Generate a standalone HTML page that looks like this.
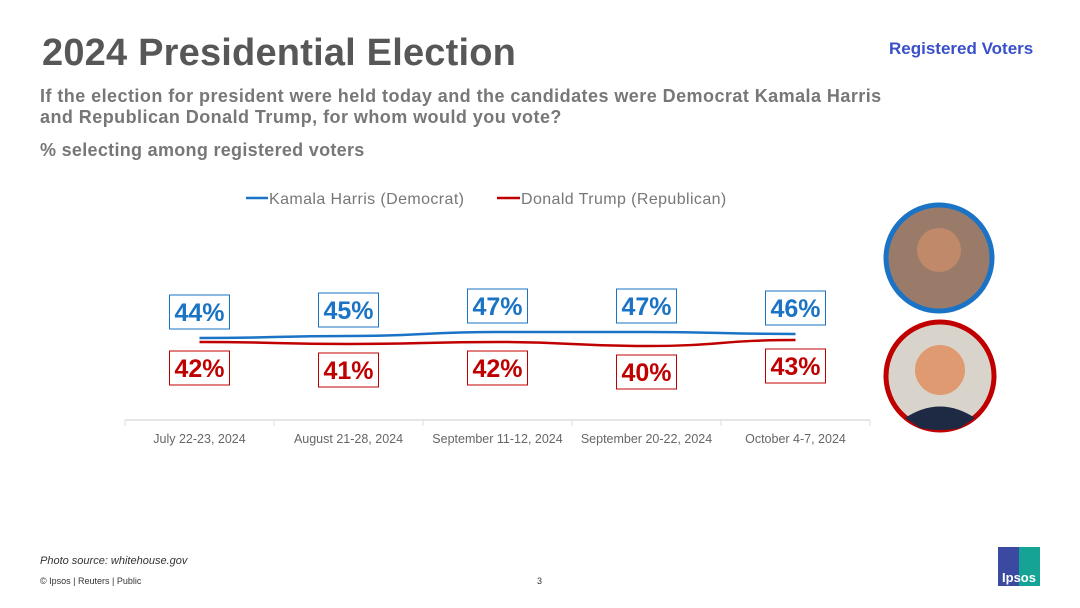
<!DOCTYPE html>
<html><head><meta charset="utf-8">
<style>
body{margin:0;width:1080px;height:608px;background:#fff;font-family:"Liberation Sans",sans-serif;position:relative;overflow:hidden}
.a{position:absolute;white-space:nowrap}
</style></head><body>
<div class="a" style="left:42px;top:32px;font-size:38px;font-weight:bold;color:#575757;letter-spacing:0.2px">2024 Presidential Election</div>
<div class="a" style="left:889px;top:39px;font-size:17px;font-weight:bold;color:#3a50c8">Registered Voters</div>
<div class="a" style="left:40px;top:86px;font-size:18px;font-weight:bold;color:#777;line-height:21px;letter-spacing:0.45px">If the election for president were held today and the candidates were Democrat Kamala Harris<br>and Republican Donald Trump, for whom would you vote?</div>
<div class="a" style="left:40px;top:140px;font-size:18px;font-weight:bold;color:#777;letter-spacing:0.3px">% selecting among registered voters</div>
<svg class="a" style="left:0;top:0" width="1080" height="608">
<g font-size="16" fill="#777" letter-spacing="0.4">
<line x1="246" y1="198" x2="268" y2="198" stroke="#1a73c4" stroke-width="2.5"/>
<text x="269" y="204">Kamala Harris (Democrat)</text>
<line x1="497" y1="198" x2="520" y2="198" stroke="#c00000" stroke-width="2.5"/>
<text x="521" y="204">Donald Trump (Republican)</text>
</g>
<g id="axis"></g>
<g id="series"></g>
<g>
<circle cx="939" cy="258" r="53" fill="#9a7b6a" stroke="#1a73c4" stroke-width="5"/>
<circle cx="939" cy="250" r="22" fill="#c08a6a"/>
</g>
<g>
<circle cx="940" cy="376" r="54" fill="#d8d4cc" stroke="#c00000" stroke-width="5"/>
<circle cx="940" cy="370" r="25" fill="#e09a72"/>
<path d="M905 418 Q940 395 975 418 L960 428 Q940 432 920 428Z" fill="#1e2a44"/>
</g>
<g>
<rect x="998" y="547" width="21" height="39" fill="#3b4aa0"/>
<rect x="1019" y="547" width="21" height="39" fill="#14a394"/>
<text x="1019" y="582" font-size="13" font-weight="bold" fill="#fff" text-anchor="middle">Ipsos</text>
</g>
</svg>
<div class="a" style="left:40px;top:555px;font-size:11px;font-style:italic;color:#333">Photo source: whitehouse.gov</div>
<div class="a" style="left:40px;top:576px;font-size:9px;color:#333">© Ipsos | Reuters | Public</div>
<div class="a" style="left:537px;top:576px;font-size:9px;color:#333">3</div>
<script>
const categories=["July 22-23, 2024","August 21-28, 2024","September 11-12, 2024","September 20-22, 2024","October 4-7, 2024"];
const harris=[44,45,47,47,46];
const trump=[42,41,42,40,43];
const NS="http://www.w3.org/2000/svg";
const x0=125,step=149;
function xs(i){return x0+step*(i+0.5);}
function ys(v){return 426-2*v;}
function mk(t,a,p){const e=document.createElementNS(NS,t);for(const k in a)e.setAttribute(k,a[k]);p.appendChild(e);return e;}
const ax=document.getElementById('axis');
const axl=mk('line',{x1:x0,y1:420,x2:x0+step*categories.length,y2:420,stroke:'#ddd','stroke-width':1.5},ax);


for(let i=0;i<=categories.length;i++){mk('line',{x1:x0+step*i,y1:420,x2:x0+step*i,y2:426,stroke:'#ddd'},ax);}
categories.forEach((c,i)=>{const t=mk('text',{x:xs(i),y:443,'text-anchor':'middle','font-size':12.5,fill:'#666'},ax);t.textContent=c;

});
const sg=document.getElementById('series');
function path(vals){let d='M'+xs(0)+' '+ys(vals[0]);for(let i=1;i<vals.length;i++){const xa=xs(i-1),xb=xs(i),ya=ys(vals[i-1]),yb=ys(vals[i]);const m=(xa+xb)/2;d+=` C${m} ${ya} ${m} ${yb} ${xb} ${yb}`;}return d;}
function series(vals,color,name,off){
const p=mk('path',{d:path(vals),fill:'none',stroke:color,'stroke-width':2.5},sg);


vals.forEach((v,i)=>{const cx=xs(i),cy=ys(v)+off;
const g=mk('g',{},sg);


mk('rect',{x:cx-30,y:cy-17,width:60,height:34,fill:'#fff',stroke:color,'stroke-width':1},g);
const t=mk('text',{x:cx,y:cy+9,'text-anchor':'middle','font-size':25,'font-weight':'bold',fill:color},g);t.textContent=v+'%';});
}
series(harris,'#1a73c4','harris',-26);
series(trump,'#c00000','trump',26);
</script>
</body></html>
